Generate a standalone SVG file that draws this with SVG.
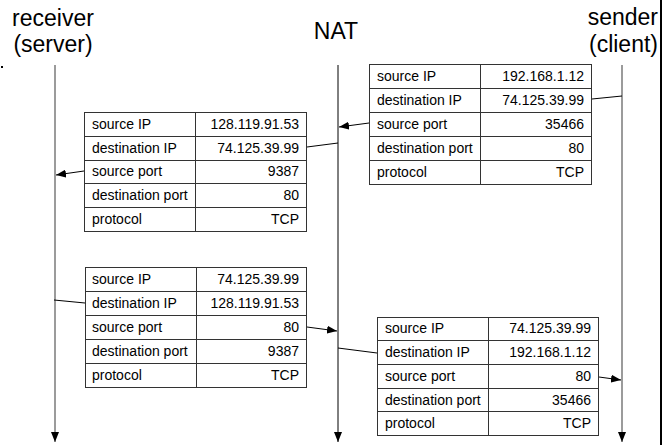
<svg xmlns="http://www.w3.org/2000/svg" width="662" height="445" viewBox="0 0 662 445">
<style>
.hd{font-family:"Liberation Sans",Arial,sans-serif;font-size:23px;fill:#000}
.t{font-family:"Liberation Sans",Arial,sans-serif;font-size:14px;fill:#000}
.v{font-family:"Liberation Sans",Arial,sans-serif;font-size:14px;fill:#000;text-anchor:end}
.box{fill:#fff;stroke:#333;stroke-width:1}
.gl{stroke:#333;stroke-width:1}
.life{stroke:#7a7a7a;stroke-width:1.5;fill:none}
.nat{stroke:#000;stroke-width:1;fill:none}
.c{stroke:#000;stroke-width:1;fill:none}
</style>
<defs>
<marker id="ah" markerWidth="10" markerHeight="8" refX="10" refY="4" orient="auto" markerUnits="userSpaceOnUse">
<path d="M0,0 L10,4 L0,8 Z" fill="#000"/>
</marker>
</defs>
<rect width="662" height="445" fill="#fff"/>
<rect x="660" y="0" width="2" height="445" fill="#000"/>
<rect x="1" y="66" width="2" height="2" fill="#000"/>

<g id="receiver">
<text class="hd" x="53" y="26" text-anchor="middle">receiver</text>
<text class="hd" x="53" y="52" text-anchor="middle">(server)</text>
<line class="life" x1="55" y1="65" x2="55" y2="442" marker-end="url(#ah)"/>
</g>
<g id="nat">
<text class="hd" x="336" y="39" text-anchor="middle">NAT</text>
<line class="nat" x1="338" y1="65" x2="338" y2="442" marker-end="url(#ah)"/>
</g>
<g id="sender">
<text class="hd" x="658" y="25" text-anchor="end">sender</text>
<text class="hd" x="658" y="52" text-anchor="end">(client)</text>
<line class="life" x1="622" y1="65" x2="622" y2="442" marker-end="url(#ah)"/>
</g>

<g id="packet1">
<rect class="box" x="369.5" y="64.5" width="222" height="120"/>
<line class="gl" x1="480.5" y1="64.5" x2="480.5" y2="184.5"/>
<line class="gl" x1="369.5" y1="88.5" x2="591.5" y2="88.5"/>
<line class="gl" x1="369.5" y1="112.5" x2="591.5" y2="112.5"/>
<line class="gl" x1="369.5" y1="136.5" x2="591.5" y2="136.5"/>
<line class="gl" x1="369.5" y1="160.5" x2="591.5" y2="160.5"/>
<text class="t" x="377" y="81">source IP</text><text class="v" x="584" y="81">192.168.1.12</text>
<text class="t" x="377" y="105">destination IP</text><text class="v" x="584" y="105">74.125.39.99</text>
<text class="t" x="377" y="129">source port</text><text class="v" x="584" y="129">35466</text>
<text class="t" x="377" y="153">destination port</text><text class="v" x="584" y="153">80</text>
<text class="t" x="377" y="177">protocol</text><text class="v" x="584" y="177">TCP</text>
</g>

<g id="packet2">
<rect class="box" x="84.5" y="112.5" width="222" height="119"/>
<line class="gl" x1="195.5" y1="112.5" x2="195.5" y2="231.5"/>
<line class="gl" x1="84.5" y1="136.5" x2="306.5" y2="136.5"/>
<line class="gl" x1="84.5" y1="160.5" x2="306.5" y2="160.5"/>
<line class="gl" x1="84.5" y1="183.5" x2="306.5" y2="183.5"/>
<line class="gl" x1="84.5" y1="207.5" x2="306.5" y2="207.5"/>
<text class="t" x="92" y="129">source IP</text><text class="v" x="299" y="129">128.119.91.53</text>
<text class="t" x="92" y="153">destination IP</text><text class="v" x="299" y="153">74.125.39.99</text>
<text class="t" x="92" y="176">source port</text><text class="v" x="299" y="176">9387</text>
<text class="t" x="92" y="200">destination port</text><text class="v" x="299" y="200">80</text>
<text class="t" x="92" y="224">protocol</text><text class="v" x="299" y="224">TCP</text>
</g>

<g id="packet3">
<rect class="box" x="85.5" y="267.5" width="221" height="120"/>
<line class="gl" x1="196.5" y1="267.5" x2="196.5" y2="387.5"/>
<line class="gl" x1="85.5" y1="291.5" x2="306.5" y2="291.5"/>
<line class="gl" x1="85.5" y1="315.5" x2="306.5" y2="315.5"/>
<line class="gl" x1="85.5" y1="339.5" x2="306.5" y2="339.5"/>
<line class="gl" x1="85.5" y1="363.5" x2="306.5" y2="363.5"/>
<text class="t" x="92" y="284">source IP</text><text class="v" x="299" y="284">74.125.39.99</text>
<text class="t" x="92" y="308">destination IP</text><text class="v" x="299" y="308">128.119.91.53</text>
<text class="t" x="92" y="332">source port</text><text class="v" x="299" y="332">80</text>
<text class="t" x="92" y="356">destination port</text><text class="v" x="299" y="356">9387</text>
<text class="t" x="92" y="380">protocol</text><text class="v" x="299" y="380">TCP</text>
</g>

<g id="packet4">
<rect class="box" x="377.5" y="317.5" width="221" height="118"/>
<line class="gl" x1="488.5" y1="317.5" x2="488.5" y2="435.5"/>
<line class="gl" x1="377.5" y1="340.5" x2="598.5" y2="340.5"/>
<line class="gl" x1="377.5" y1="364.5" x2="598.5" y2="364.5"/>
<line class="gl" x1="377.5" y1="388.5" x2="598.5" y2="388.5"/>
<line class="gl" x1="377.5" y1="411.5" x2="598.5" y2="411.5"/>
<text class="t" x="385" y="333">source IP</text><text class="v" x="591" y="333">74.125.39.99</text>
<text class="t" x="385" y="357">destination IP</text><text class="v" x="591" y="357">192.168.1.12</text>
<text class="t" x="385" y="381">source port</text><text class="v" x="591" y="381">80</text>
<text class="t" x="385" y="405">destination port</text><text class="v" x="591" y="405">35466</text>
<text class="t" x="385" y="428">protocol</text><text class="v" x="591" y="428">TCP</text>
</g>

<g id="connectors">
<line class="c" x1="622" y1="96" x2="592" y2="99"/>
<line class="c" x1="369" y1="123" x2="339" y2="127" marker-end="url(#ah)"/>
<line class="c" x1="338" y1="143" x2="307" y2="147"/>
<line class="c" x1="84" y1="171" x2="56" y2="175" marker-end="url(#ah)"/>
<line class="c" x1="54" y1="300" x2="85" y2="303"/>
<line class="c" x1="307" y1="327" x2="337" y2="331" marker-end="url(#ah)"/>
<line class="c" x1="338" y1="348" x2="377" y2="353"/>
<line class="c" x1="599" y1="377" x2="621" y2="380" marker-end="url(#ah)"/>
</g>
</svg>
